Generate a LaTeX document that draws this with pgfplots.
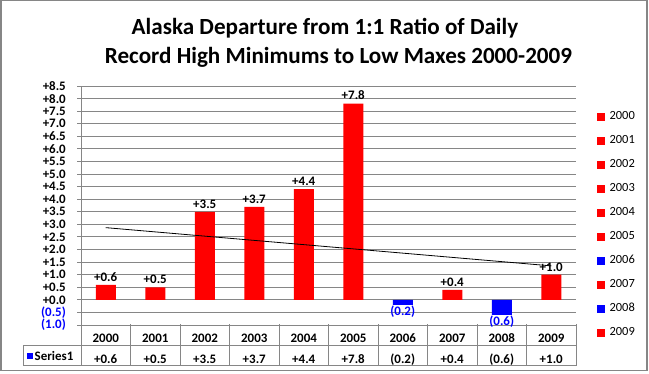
\documentclass[border=0pt]{standalone}
\usepackage{fontspec}
\setmainfont{Carlito}
\usepackage{pgfplots}
\pgfplotsset{compat=1.18}
\definecolor{gridgray}{RGB}{134,134,134}
\definecolor{xred}{RGB}{255,0,0}
\definecolor{xblue}{RGB}{0,0,255}
\newcommand{\lblfont}{\fontsize{13}{15}\selectfont\bfseries}
\begin{document}
\begin{tikzpicture}[x=1bp,y=1bp]
\useasboundingbox (0,0) rectangle (649,373);
\draw[gridgray, line width=1.5bp] (0.75,2.3) rectangle (647,372.3);
\node[anchor=base, font=\fontsize{23.2}{28}\selectfont\bfseries] at (325,339) {Alaska Departure from 1:1 Ratio of Daily};
\node[anchor=base, font=\fontsize{23.2}{28}\selectfont\bfseries] at (338.5,309.5) {Record High Minimums to Low Maxes 2000-2009};
\begin{axis}[
  at={(81bp,48bp)}, anchor=south west, scale only axis,
  width=495bp, height=239bp,
  xmin=-0.5, xmax=9.5, ymin=-1, ymax=8.5,
  ybar, bar width=20bp,
  axis x line*=bottom, axis y line*=left,
  axis line style={-, gridgray, line width=1bp},
  ymajorgrids, grid style={gridgray, line width=1bp},
  ytick={-1,-0.5,0,0.5,1,1.5,2,2.5,3,3.5,4,4.5,5,5.5,6,6.5,7,7.5,8,8.5},
  yticklabels={{\color{xblue}(1.0)},{\color{xblue}(0.5)},+0.0,+0.5,+1.0,+1.5,+2.0,+2.5,+3.0,+3.5,+4.0,+4.5,+5.0,+5.5,+6.0,+6.5,+7.0,+7.5,+8.0,+8.5},
  ytick style={gridgray, line width=1bp},
  tick align=outside, major tick length=4bp,
  yticklabel style={font=\lblfont, anchor=east, inner sep=0pt, xshift=-11bp},
  xtick={0,1,2,3,4,5,6,7,8,9},
  xticklabels={2000,2001,2002,2003,2004,2005,2006,2007,2008,2009},
  xtick style={draw=none},
  xticklabel style={font=\lblfont, text height=9bp, text depth=3bp, inner sep=0pt, anchor=center, yshift=-10.5bp},
  extra x ticks={0,1,2,3,4,5,6,7,8,9},
  extra x tick labels={+0.6,+0.5,+3.5,+3.7,+4.4,+7.8,(0.2),+0.4,(0.6),+1.0},
  extra x tick style={xtick style={draw=none}, xticklabel style={yshift=-20.5bp}},
  clip=false,
  legend style={at={(1.0424,0.8996)}, anchor=north west, draw=none, fill=none,
    inner sep=0pt, row sep=12bp, font=\fontsize{12.5}{15}\selectfont,
    nodes={inner sep=0pt, text height=9bp, text depth=3bp},
    /tikz/every odd column/.append style={column sep=5bp}},
  legend cell align=left,
]
\addplot[fill=xred, draw=none, bar shift=0pt, forget plot,
  nodes near coords, point meta=explicit symbolic,
  every node near coord/.append style={font=\lblfont, black}]
  coordinates {(0,0.6)[+0.6] (1,0.5)[+0.5] (2,3.5)[+3.5] (3,3.7)[+3.7] (4,4.4)[+4.4] (5,7.8)[+7.8] (7,0.4)[+0.4] (9,1.0)[+1.0]};
\addplot[fill=xblue, draw=none, bar shift=0pt, forget plot,
  nodes near coords, point meta=explicit symbolic,
  every node near coord/.append style={font=\lblfont, xblue, anchor=north, inner sep=1bp}]
  coordinates {(6,-0.2)[(0.2)] (8,-0.6)[(0.6)]};
\addplot[sharp plot, black, line width=0.8bp, no marks, forget plot]
  coordinates {(0,2.87) (9,1.35)};
\addlegendimage{legend image code/.code={\fill[xred] (0bp,-3.5bp) rectangle (7bp,3.5bp);}}
\addlegendentry{2000}
\addlegendimage{legend image code/.code={\fill[xred] (0bp,-3.5bp) rectangle (7bp,3.5bp);}}
\addlegendentry{2001}
\addlegendimage{legend image code/.code={\fill[xred] (0bp,-3.5bp) rectangle (7bp,3.5bp);}}
\addlegendentry{2002}
\addlegendimage{legend image code/.code={\fill[xred] (0bp,-3.5bp) rectangle (7bp,3.5bp);}}
\addlegendentry{2003}
\addlegendimage{legend image code/.code={\fill[xred] (0bp,-3.5bp) rectangle (7bp,3.5bp);}}
\addlegendentry{2004}
\addlegendimage{legend image code/.code={\fill[xred] (0bp,-3.5bp) rectangle (7bp,3.5bp);}}
\addlegendentry{2005}
\addlegendimage{legend image code/.code={\fill[xblue] (0bp,-3.5bp) rectangle (7bp,3.5bp);}}
\addlegendentry{2006}
\addlegendimage{legend image code/.code={\fill[xred] (0bp,-3.5bp) rectangle (7bp,3.5bp);}}
\addlegendentry{2007}
\addlegendimage{legend image code/.code={\fill[xblue] (0bp,-3.5bp) rectangle (7bp,3.5bp);}}
\addlegendentry{2008}
\addlegendimage{legend image code/.code={\fill[xred] (0bp,-3.5bp) rectangle (7bp,3.5bp);}}
\addlegendentry{2009}
\end{axis}
% data table grid
\draw[gridgray, line width=1bp] (23,27.3) -- (576,27.3);
\draw[gridgray, line width=1bp] (23,7.3) -- (576,7.3);
\draw[gridgray, line width=1bp] (23,7.3) -- (23,27.3);
\foreach \k in {0,...,10} {\draw[gridgray, line width=1bp] ({81+49.5*\k},7.3) -- ({81+49.5*\k},48.7);}
\fill[xblue] (27,14.2) rectangle (32.5,19.7);
\node[anchor=west, inner sep=0pt, font=\lblfont] at (34.5,17) {Series1};
\end{tikzpicture}
\end{document}
